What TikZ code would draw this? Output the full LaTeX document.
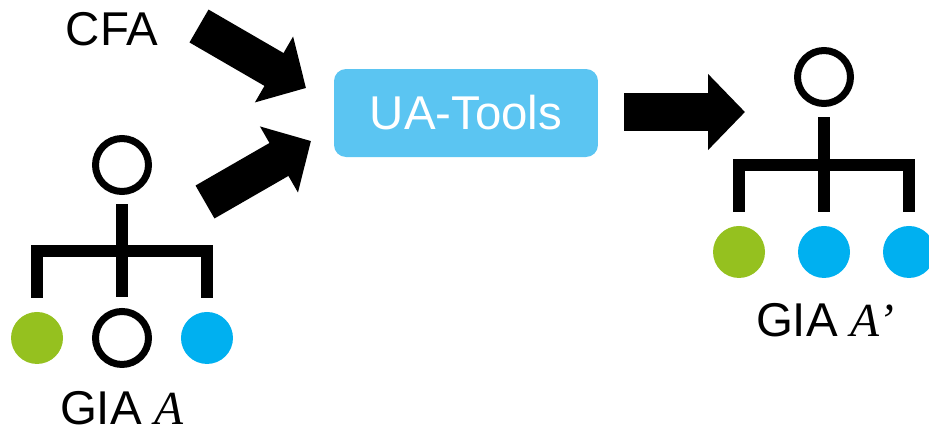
\documentclass[tikz,border=0pt]{standalone}
\usepackage{fontspec}
\setmainfont{Liberation Sans}
\newfontfamily\seriffont{Liberation Serif}
\usetikzlibrary{arrows.meta}

\definecolor{leafgreen}{RGB}{149,193,31}
\definecolor{leafblue}{RGB}{0,176,240}
\definecolor{toolblue}{RGB}{91,197,242}

\begin{document}
\begin{tikzpicture}[x=0.02cm,y=-0.02cm]
\tikzstyle{every node}=[font=\fontsize{27}{32}\selectfont];
\tikzstyle{ring}=[draw,circle,line width=0.14cm,inner sep=0pt,outer sep=0pt,minimum size=1.06cm];
\tikzstyle{leaf}=[circle,inner sep=0pt,outer sep=0pt,minimum size=1.04cm];
\tikzstyle{block arrow}=[line width=0.76cm,-{Triangle[length=0.74cm,width=1.48cm]}];
\useasboundingbox (0,0) rectangle (929,434);

% input tree
\node[ring] (gia) at (122,165) {}[level distance=3.46cm,sibling distance=1.7cm,
	edge from parent/.style={draw,line width=0.25cm,miter limit=4},
	edge from parent path={([yshift=-0.25cm]\tikzparentnode.south) -- ++(0,47)
		-| ([yshift=0.28cm]\tikzchildnode.north)}]
child { node[leaf,fill=leafgreen] (gia-a) {} }
child { node[ring] (gia-b) {} }
child { node[leaf,fill=leafblue] (gia-c) {} };
\node (gia-name) at (122,408) {GIA {\seriffont\itshape A}};

% output tree
\node[ring] (out) at (824,77) {}[level distance=3.5cm,sibling distance=1.7cm,
	edge from parent/.style={draw,line width=0.25cm,miter limit=4},
	edge from parent path={([yshift=-0.27cm]\tikzparentnode.south) -- ++(0,48)
		-| ([yshift=0.28cm]\tikzchildnode.north)}]
child { node[leaf,fill=leafgreen] (out-a) {} }
child { node[leaf,fill=leafblue] (out-b) {} }
child { node[leaf,fill=leafblue] (out-c) {} };
\node (out-name) at (825,320) {GIA {\seriffont\itshape A’}};

\node (cfa) at (112,29) {CFA};
\node[fill=toolblue,text=white,rounded corners=0.24cm,minimum width=5.28cm,
	minimum height=1.76cm] (tools) at (466,113) {UA-Tools};

% big arrows
\coordinate (cfa-tail) at (199,26);
\coordinate (cfa-tip) at (306,88);
\coordinate (gia-tail) at (205,202);
\coordinate (gia-tip) at (311,141);
\coordinate (tools-tail) at (624,112);
\coordinate (tools-tip) at (745,112);
\draw[block arrow] (cfa-tail) -- (cfa-tip);
\draw[block arrow] (gia-tail) -- (gia-tip);
\draw[block arrow] (tools-tail) -- (tools-tip);
\end{tikzpicture}
\end{document}
